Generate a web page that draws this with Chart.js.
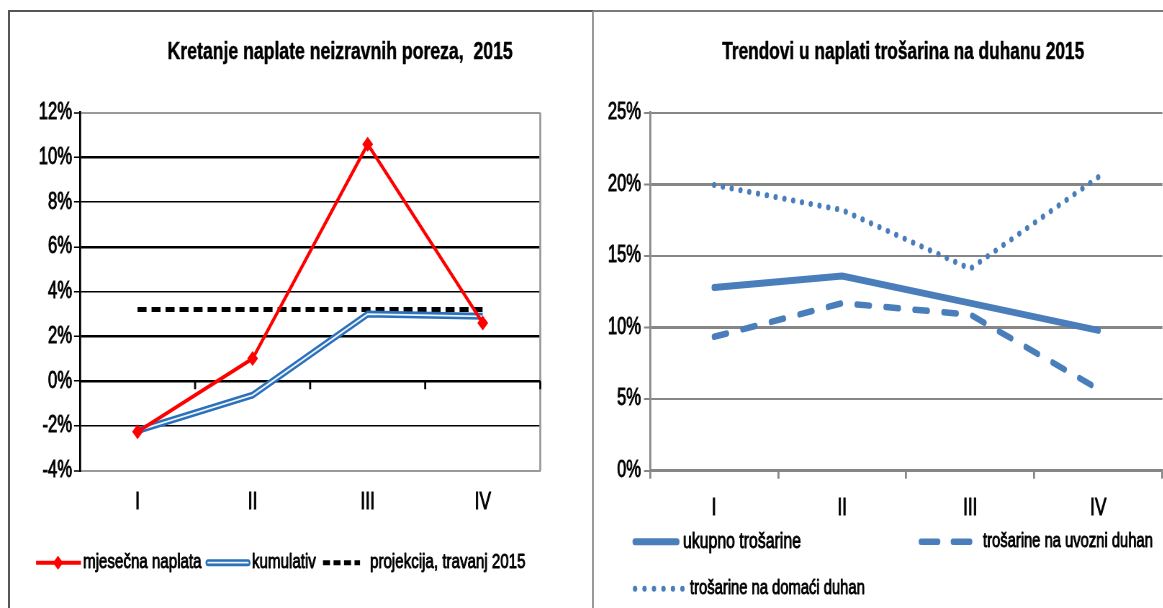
<!DOCTYPE html>
<html><head><meta charset="utf-8">
<script src="https://cdn.jsdelivr.net/npm/chart.js@4.4.1/dist/chart.umd.min.js"></script>
<style>
html,body{margin:0;padding:0;background:#fff;width:1163px;height:608px;overflow:hidden;}
#leftPanel{position:absolute;left:8px;top:10px;width:582px;height:640px;border-left:2px solid #555;border-top:2px solid #555;border-right:2px solid #9a9a9a;}
#rightPanel{position:absolute;left:594px;top:10px;width:600px;height:640px;border-top:2px solid #7a7a7a;}
canvas{position:absolute;transform-origin:0 0;}
</style></head>
<body>
<div id="leftPanel"></div><div id="rightPanel"></div>
<canvas id="c1" style="left:10px;top:12px"></canvas>
<canvas id="c2" style="left:596px;top:12px"></canvas>
<script>
// ---------- data: left chart ----------
const leftTitle = 'Kretanje naplate neizravnih poreza,  2015';
const leftCategories = ['I', 'II', 'III', 'IV'];
const monthlyCollection = [-2.26, 1.01, 10.59, 2.6];
const cumulative = [-2.21, -0.62, 3.0, 2.9];
const projection = [3.2, 3.2, 3.2, 3.2];
const leftSeriesNames = ['mjesečna naplata', 'kumulativ', 'projekcija, travanj 2015'];
const leftYMin = -4, leftYMax = 12, leftYStep = 2;

// ---------- data: right chart ----------
const rightTitle = 'Trendovi u naplati trošarina na duhanu 2015';
const rightCategories = ['I', 'II', 'III', 'IV'];
const totalExcise = [12.8, 13.6, 11.7, 9.8];
const importedTobacco = [9.35, 11.7, 10.9, 5.7];
const domesticTobacco = [19.95, 18.2, 14.1, 20.5];
const rightSeriesNames = ['ukupno trošarine', 'trošarine na uvozni duhan', 'trošarine na domaći duhan'];
const rightYMin = 0, rightYMax = 25, rightYStep = 5;

// the original picture is horizontally condensed: draw wider, then squeeze
const S = 0.72;
const W1 = 582, W2 = 567, H = 596;
function setup(id, w) {
  const c = document.getElementById(id);
  c.width = Math.round(w / S); c.height = H;
  c.style.width = Math.round(w / S) + 'px'; c.style.height = H + 'px';
  c.style.transform = 'scaleX(' + S + ')';
  return c;
}
const c1 = setup('c1', W1), c2 = setup('c2', W2);

const FONT = "'Liberation Sans', Arial, sans-serif";
Chart.defaults.font.family = FONT;
Chart.defaults.color = '#000';
const pct = v => v + '%';
const u = v => v / S; // page-horizontal px -> canvas px
const TSTROKE = 0.9;

function txt(ctx, s, x, y, font, align, sw) {
  ctx.save();
  ctx.font = font;
  ctx.fillStyle = '#000';
  ctx.strokeStyle = '#000';
  ctx.lineWidth = sw === undefined ? TSTROKE : sw;
  ctx.lineJoin = 'round';
  ctx.textAlign = align || 'left';
  ctx.textBaseline = 'middle';
  ctx.fillText(s, x, y);
  if (ctx.lineWidth > 0) ctx.strokeText(s, x, y);
  ctx.restore();
}

// ---------- left chart decorations ----------
const INNER = '#EEF4FB';
const leftDecor = {
  id: 'leftDecor',
  beforeDatasetsDraw(chart) {
    const {ctx, chartArea: a, scales: {x, y}} = chart;
    const y0 = y.getPixelForValue(0);
    ctx.save();
    ctx.strokeStyle = '#9A9A9A'; ctx.lineWidth = 2 / S;
    ctx.beginPath(); ctx.moveTo(a.right, a.top); ctx.lineTo(a.right, a.bottom); ctx.stroke();
    ctx.strokeStyle = '#000'; ctx.lineWidth = 2.5;
    ctx.beginPath(); ctx.moveTo(a.left, y0); ctx.lineTo(a.right, y0); ctx.stroke();
    ctx.lineWidth = 2 / S;
    ctx.beginPath();
    const n = leftCategories.length;
    for (let i = 1; i <= n; i++) {
      const bx = i < n ? (x.getPixelForValue(i - 1) + x.getPixelForValue(i)) / 2 : a.right;
      ctx.moveTo(bx, y0); ctx.lineTo(bx, y0 + 8);
    }
    ctx.stroke();
    ctx.restore();
  },
  afterDatasetDraw(chart, args) {
    if (args.index !== 1) return;
    const {ctx} = chart;
    ctx.save();
    ctx.strokeStyle = INNER; ctx.lineWidth = 1.8; ctx.lineJoin = 'round';
    ctx.beginPath();
    args.meta.data.forEach((p, i) => i ? ctx.lineTo(p.x, p.y) : ctx.moveTo(p.x, p.y));
    ctx.stroke();
    ctx.restore();
  },
  afterDraw(chart) {
    const {ctx, chartArea: a} = chart;
    txt(ctx, leftTitle, (a.left + a.right) / 2 + u(30), a.top - 60, 'bold 24.5px ' + FONT, 'center', 0.5);
    const ly = a.bottom + 92;
    const ds = chart.data.datasets;
    ctx.save();
    // red line with diamond
    ctx.strokeStyle = ds[0].borderColor; ctx.lineWidth = 4;
    ctx.beginPath(); ctx.moveTo(u(26), ly); ctx.lineTo(u(71), ly); ctx.stroke();
    ctx.fillStyle = ds[0].borderColor;
    ctx.beginPath(); ctx.moveTo(u(48), ly - 7); ctx.lineTo(u(48) + 7, ly); ctx.lineTo(u(48), ly + 7); ctx.lineTo(u(48) - 7, ly); ctx.closePath(); ctx.fill();
    // blue double line
    ctx.strokeStyle = ds[1].borderColor; ctx.lineWidth = 7; ctx.lineCap = 'round';
    ctx.beginPath(); ctx.moveTo(u(198), ly); ctx.lineTo(u(238), ly); ctx.stroke();
    ctx.strokeStyle = INNER; ctx.lineWidth = 1.8;
    ctx.beginPath(); ctx.moveTo(u(198), ly); ctx.lineTo(u(238), ly); ctx.stroke();
    // black dashed
    ctx.lineCap = 'butt';
    ctx.strokeStyle = ds[2].borderColor; ctx.lineWidth = 5; ctx.setLineDash([u(7), u(3.5)]);
    ctx.beginPath(); ctx.moveTo(u(313), ly); ctx.lineTo(u(350), ly); ctx.stroke();
    ctx.restore();
    const f = '21px ' + FONT;
    txt(ctx, leftSeriesNames[0], u(73), ly, f);
    txt(ctx, leftSeriesNames[1], u(242), ly, f);
    txt(ctx, leftSeriesNames[2], u(360), ly, f);
  }
};

new Chart(c1, {
  type: 'line',
  data: {
    labels: leftCategories,
    datasets: [
      { label: leftSeriesNames[0], data: monthlyCollection, borderColor: '#FF0000', backgroundColor: '#FF0000',
        borderWidth: 4, pointStyle: 'rectRot', pointRadius: 7.5, pointBorderWidth: 0, pointBackgroundColor: '#FF0000', tension: 0 },
      { label: leftSeriesNames[1], data: cumulative, borderColor: '#2A70BA', borderWidth: 7, pointRadius: 0, tension: 0, borderJoinStyle: 'round' },
      { label: leftSeriesNames[2], data: projection, borderColor: '#000000', borderWidth: 5, borderDash: [u(9), u(5)], pointRadius: 0 }
    ]
  },
  options: {
    responsive: false, devicePixelRatio: 1, animation: false,
    layout: { padding: { top: 100.7, right: u(51.5), left: 0, bottom: 0 } },
    plugins: { legend: { display: false }, title: { display: false }, tooltip: { enabled: false } },
    scales: {
      x: {
        offset: true,
        grid: { drawOnChartArea: false, drawTicks: false },
        border: { color: '#9A9A9A', width: 2 },
        ticks: { font: { size: 24 }, color: '#000', padding: 17, textStrokeColor: '#000', textStrokeWidth: TSTROKE },
        afterFit: s => { s.height = 137.3; }
      },
      y: {
        min: leftYMin, max: leftYMax,
        ticks: { stepSize: leftYStep, callback: pct, font: { size: 23 }, padding: u(2), color: '#000', textStrokeColor: '#000', textStrokeWidth: TSTROKE },
        grid: {
          color: c => (c.tick && (c.tick.value === leftYMax || c.tick.value === leftYMin)) ? '#9A9A9A' : '#000',
          lineWidth: c => {
            if (!c.tick) return 1.5;
            const v = c.tick.value;
            if (v === leftYMax || v === leftYMin) return 2;
            return (v > 0 && v % 4 === 2) ? 2.5 : 1.5;
          },
          tickColor: '#000', tickLength: u(6), tickWidth: 1.5
        },
        border: { color: '#000', width: 2 / S },
        afterFit: s => { s.width = u(70); }
      }
    }
  },
  plugins: [leftDecor]
});

// ---------- right chart ----------
const BLUE = '#4A7EBB';
const rightDecor = {
  id: 'rightDecor',
  afterDraw(chart) {
    const {ctx, chartArea: a} = chart;
    txt(ctx, rightTitle, (a.left + a.right) / 2 - u(3), a.top - 60, 'bold 24px ' + FONT, 'center', 0.5);
    const r1 = a.bottom + 71, r2 = a.bottom + 118;
    ctx.save();
    ctx.strokeStyle = BLUE; ctx.lineCap = 'round';
    ctx.lineWidth = 7;
    ctx.beginPath(); ctx.moveTo(u(39), r1); ctx.lineTo(u(81), r1); ctx.stroke();
    ctx.lineWidth = 6.5; ctx.setLineDash([u(17), u(15)]);
    ctx.beginPath(); ctx.moveTo(u(325), r1); ctx.lineTo(u(382), r1); ctx.stroke();
    ctx.lineWidth = 6; ctx.setLineDash([0.1, u(9.4)]);
    ctx.beginPath(); ctx.moveTo(u(39), r2); ctx.lineTo(u(87), r2); ctx.stroke();
    ctx.restore();
    txt(ctx, rightSeriesNames[0], u(87), r1, '22px ' + FONT);
    txt(ctx, rightSeriesNames[1], u(387), r1, '20.5px ' + FONT);
    txt(ctx, rightSeriesNames[2], u(94), r2, '20.5px ' + FONT);
  }
};

new Chart(c2, {
  type: 'line',
  data: {
    labels: rightCategories,
    datasets: [
      { label: rightSeriesNames[0], data: totalExcise, borderColor: BLUE, borderWidth: 7, pointRadius: 0, tension: 0,
        borderCapStyle: 'round', borderJoinStyle: 'round' },
      { label: rightSeriesNames[1], data: importedTobacco, borderColor: BLUE, borderWidth: 6.5, borderDash: [u(13), u(16)], pointRadius: 0, tension: 0,
        borderCapStyle: 'round', borderJoinStyle: 'round' },
      { label: rightSeriesNames[2], data: domesticTobacco, borderColor: BLUE, borderWidth: 6, borderDash: [0.1, u(8.8)], pointRadius: 0, tension: 0,
        borderCapStyle: 'round', borderJoinStyle: 'round' }
    ]
  },
  options: {
    responsive: false, devicePixelRatio: 1, animation: false,
    layout: { padding: { top: 100.7, right: u(1), left: 0, bottom: 0 } },
    plugins: { legend: { display: false }, title: { display: false }, tooltip: { enabled: false } },
    scales: {
      x: {
        offset: true,
        grid: { offset: true, drawOnChartArea: false, drawTicks: true, tickLength: 8, color: '#868686', lineWidth: 2 / S },
        border: { color: '#868686', width: 2.5 },
        ticks: { font: { size: 24 }, color: '#000', padding: 15, textStrokeColor: '#000', textStrokeWidth: TSTROKE },
        afterFit: s => { s.height = 137.3; }
      },
      y: {
        min: rightYMin, max: rightYMax,
        ticks: { stepSize: rightYStep, callback: pct, font: { size: 23 }, padding: u(3), color: '#000', textStrokeColor: '#000', textStrokeWidth: TSTROKE },
        grid: {
          color: '#868686',
          lineWidth: c => (c.tick && (c.tick.value === 20 || c.tick.value === 10)) ? 3 : 2,
          tickColor: '#868686', tickLength: u(6), tickWidth: 2
        },
        border: { color: '#868686', width: 2 / S },
        afterFit: s => { s.width = u(54); }
      }
    }
  },
  plugins: [rightDecor]
});
</script>
</body></html>
